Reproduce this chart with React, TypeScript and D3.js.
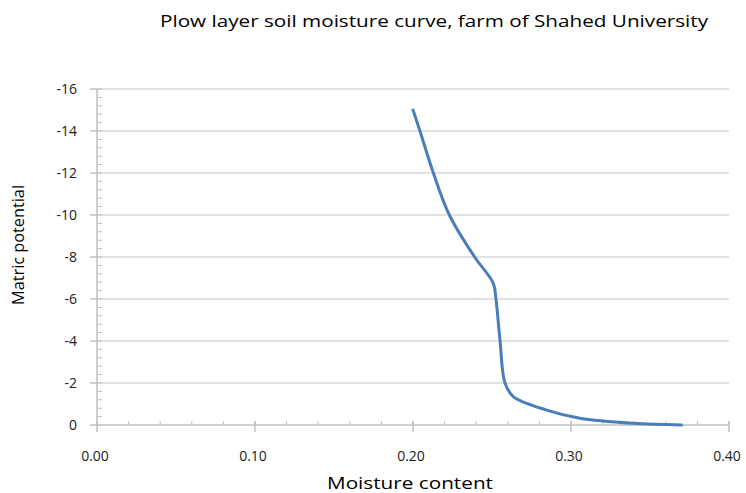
import * as d3 from 'd3'

// 커브 포인트 (함수량, 매트릭 포텐셜)
const moisture = [0.2, 0.2044, 0.2129, 0.223, 0.239, 0.2508, 0.2525, 0.2551, 0.2582, 0.2635, 0.2846, 0.3057, 0.3394, 0.37]
const potential = [-15, -14, -12, -10, -8, -6.75, -6, -4, -2, -1.35, -0.71, -0.32, -0.08, 0]

const xTicks = [0, 0.1, 0.2, 0.3, 0.4]
const yTicks = [0, -2, -4, -6, -8, -10, -12, -14, -16]

const W = 746
const H = 493
const font = '"Open Sans", "Liberation Sans", sans-serif'

export default function App() {
  const x = d3.scaleLinear().domain([0, 0.4]).range([97, 729])
  const y = d3.scaleLinear().domain([0, -16]).range([425, 89])

  const pts = moisture.map((m, i) => [m, potential[i]] as [number, number])
  const line = d3
    .line<[number, number]>()
    .x((d) => x(d[0]))
    .y((d) => y(d[1]))
    .curve(d3.curveCatmullRom.alpha(0.5))

  const xMinor = d3.range(0, 0.4001, 0.02)
  const yMinor = d3.range(0, -16.001, -0.4)

  return (
    <svg width={W} height={H} style={{ position: 'absolute', left: 0, top: 0, background: '#fff' }}>
      <text
        x={160}
        y={27}
        fontFamily={font}
        fontSize={16}
        fill="#000"
        textLength={548}
        lengthAdjust="spacingAndGlyphs"
      >
        Plow layer soil moisture curve, farm of Shahed University
      </text>

      {/* 그리드 */}
      {yTicks.filter((t) => t !== 0).map((t) => (
        <line key={'g' + t} x1={x(0)} x2={x(0.4)} y1={y(t)} y2={y(t)} stroke="#d9d9d9" strokeWidth={1.5} />
      ))}

      {/* 보조 눈금 */}
      {yMinor.map((t, i) => (
        <line key={'ym' + i} x1={x(0)} x2={x(0) + 5} y1={y(t)} y2={y(t)} stroke="#bfbfbf" strokeWidth={1} />
      ))}
      {xMinor.map((t, i) => (
        <line key={'xm' + i} x1={x(t)} x2={x(t)} y1={y(0)} y2={y(0) - 4} stroke="#bfbfbf" strokeWidth={1} />
      ))}

      {/* 축 */}
      <line x1={x(0)} x2={x(0)} y1={y(0)} y2={y(-16)} stroke="#bfbfbf" strokeWidth={1.5} />
      <line x1={x(0)} x2={x(0.4)} y1={y(0)} y2={y(0)} stroke="#bfbfbf" strokeWidth={1.5} />
      {yTicks.map((t) => (
        <g key={'y' + t}>
          <line x1={x(0) - 7} x2={x(0)} y1={y(t)} y2={y(t)} stroke="#bfbfbf" strokeWidth={1.5} />
          <text x={77} y={y(t) + 5} textAnchor="end" fontFamily={font} fontSize={14} fill="#222">
            {t}
          </text>
        </g>
      ))}
      {xTicks.map((t) => (
        <g key={'x' + t}>
          <line x1={x(t)} x2={x(t)} y1={y(0) - 4} y2={y(0) + 7} stroke="#bfbfbf" strokeWidth={1.5} />
          <text x={x(t) - 2} y={461} textAnchor="middle" fontFamily={font} fontSize={14} fill="#222">
            {t.toFixed(2)}
          </text>
        </g>
      ))}

      <path d={line(pts) ?? ''} fill="none" stroke="#4a7ebb" strokeWidth={3} strokeLinecap="round" />

      <text
        x={327}
        y={489}
        fontFamily={font}
        fontSize={17}
        fill="#000"
        textLength={166}
        lengthAdjust="spacingAndGlyphs"
      >
        Moisture content
      </text>
      <text
        transform={`translate(24,305) rotate(-90)`}
        fontFamily={font}
        fontSize={16}
        fill="#000"
        textLength={120}
        lengthAdjust="spacingAndGlyphs"
      >
        Matric potential
      </text>
    </svg>
  )
}
